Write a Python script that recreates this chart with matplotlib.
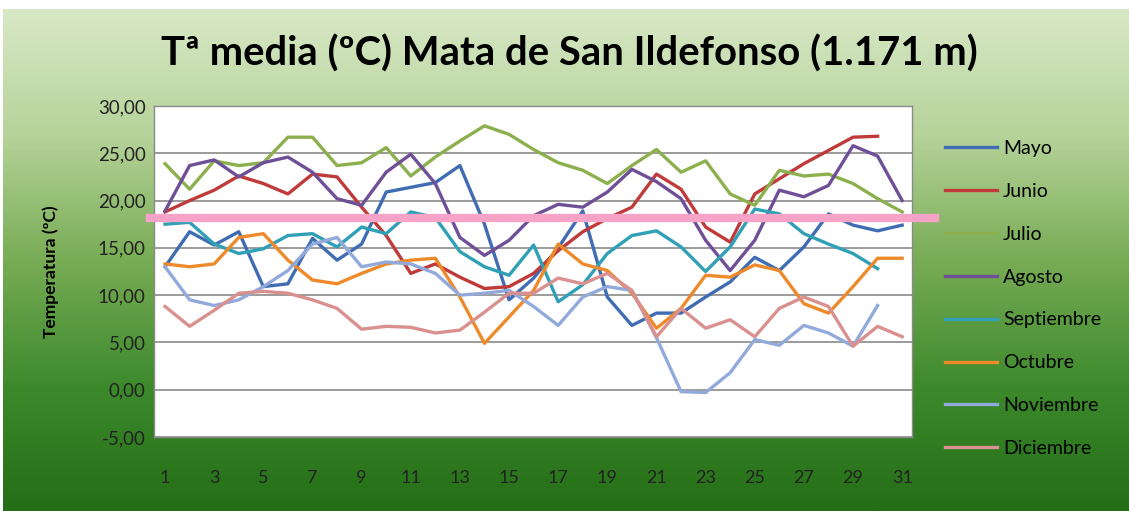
import numpy as np
import matplotlib
matplotlib.use("Agg")
import matplotlib.pyplot as plt
from matplotlib.ticker import FuncFormatter

plt.rcParams["font.family"] = ["Lato", "DejaVu Sans"]

nan = np.nan

dias = list(range(1, 32))

mayo = [13.0, 16.7, 15.3, 16.7, 10.9, 11.2, 16.0, 13.7, 15.4, 20.9, 21.4,
        21.9, 23.7, 17.5, 9.5, 11.8, 15.0, 18.9, 9.8, 6.8, 8.1,
        8.1, 9.8, 11.4, 14.0, 12.6, 15.1, 18.6, 17.4, 16.8, 17.4]
junio = [18.8, 20.0, 21.1, 22.6, 21.8, 20.7, 22.8, 22.5, 19.3, 16.3, 12.3,
         13.3, 11.9, 10.7, 10.9, 12.3, 14.7, 16.7, 18.1, 19.3, 22.8,
         21.2, 17.2, 15.6, 20.7, 22.3, 23.9, 25.3, 26.7, 26.8, nan]
julio = [23.9, 21.2, 24.2, 23.7, 24.0, 26.7, 26.7, 23.7, 24.0, 25.6, 22.6,
         24.6, 26.3, 27.9, 27.0, 25.4, 24.0, 23.2, 21.8, 23.7, 25.4,
         23.0, 24.2, 20.7, 19.5, 23.2, 22.6, 22.8, 21.8, 20.2, 18.8]
agosto = [18.9, 23.7, 24.3, 22.5, 24.0, 24.6, 23.0, 20.2, 19.5, 23.0, 24.9,
          21.8, 16.1, 14.2, 15.8, 18.4, 19.6, 19.3, 20.9, 23.3, 22.0,
          20.2, 15.8, 12.6, 15.8, 21.1, 20.4, 21.6, 25.8, 24.7, 20.0]
septiembre = [17.5, 17.7, 15.4, 14.4, 14.9, 16.3, 16.5, 15.1, 17.2, 16.5, 18.8,
              18.2, 14.6, 13.0, 12.1, 15.3, 9.3, 11.1, 14.4, 16.3, 16.8,
              15.1, 12.5, 15.1, 19.1, 18.6, 16.5, 15.4, 14.4, 12.8, nan]
octubre = [13.3, 13.0, 13.3, 16.1, 16.5, 13.7, 11.6, 11.2, 12.3, 13.3, 13.7,
           13.9, 9.8, 4.9, 7.7, 10.5, 15.4, 13.3, 12.6, 10.2, 6.5,
           8.6, 12.1, 11.9, 13.2, 12.6, 9.1, 8.1, 10.9, 13.9, 13.9]
noviembre = [13.0, 9.5, 8.9, 9.5, 10.9, 12.6, 15.4, 16.1, 13.0, 13.5, 13.3,
             12.3, 10.0, 10.2, 10.5, 8.8, 6.8, 9.8, 10.9, 10.5, 5.5,
             -0.2, -0.3, 1.8, 5.3, 4.7, 6.8, 6.0, 4.6, 8.9, nan]
diciembre = [8.8, 6.7, 8.4, 10.2, 10.4, 10.2, 9.5, 8.6, 6.4, 6.7, 6.6,
             6.0, 6.3, 8.2, 10.2, 10.2, 11.8, 11.2, 12.3, 10.5, 5.6,
             8.6, 6.5, 7.4, 5.6, 8.6, 9.8, 8.8, 4.6, 6.7, 5.6]

meses = ["Mayo", "Junio", "Julio", "Agosto", "Septiembre", "Octubre",
         "Noviembre", "Diciembre"]
series = [mayo, junio, julio, agosto, septiembre, octubre, noviembre, diciembre]
colores = ["#3f6cb3", "#bf3a38", "#8cb04e", "#6f4f98", "#2fa0b6", "#ee8a2a",
           "#92aadb", "#d9908f"]

umbral = 18.2

fig = plt.figure(figsize=(11.29, 5.11), dpi=100)

# fondo degradado verde
bg = fig.add_axes([0.003, 0.0, 0.997, 0.982], zorder=-10)
grad = np.linspace(0, 1, 256).reshape(-1, 1)
cmap = matplotlib.colors.LinearSegmentedColormap.from_list(
    "verde", ["#d8e8c6", "#b6d39a", "#78ac55", "#3d8a2c", "#246e17"])
bg.imshow(grad, aspect="auto", cmap=cmap, extent=[0, 1, 0, 1])
bg.axis("off")

ax = fig.add_axes([0.1364, 0.1448, 0.6714, 0.6478])
ax.set_facecolor("white")
for i, (nombre, ys) in enumerate(zip(meses, series)):
    ax.plot(dias, ys, color=colores[i], lw=2.4, label=nombre, zorder=3)

ax.axhline(umbral, xmin=-0.005, xmax=1.03, color="#f7a3c8", lw=6,
           clip_on=False, zorder=4)

ax.set_ylim(-5, 30)
ax.set_xlim(0.55, 31.4)
ax.set_yticks(range(-5, 31, 5))
ax.yaxis.set_major_formatter(FuncFormatter(lambda v, p: f"{v:.2f}".replace(".", ",")))
ax.set_xticks(dias[::2])
ax.grid(axis="y", color="#8a8a8a", lw=1.2, zorder=1)
ax.tick_params(axis="y", length=0, pad=6, labelsize=13.5, labelcolor="#222222")
ax.tick_params(axis="x", length=0, pad=24, labelsize=13, labelcolor="#222222")
for s in ax.spines.values():
    s.set_color("#8a8a8a")
    s.set_linewidth(1)

ax.set_ylabel("Temperatura (ºC)", fontsize=12.5, fontweight="bold", labelpad=28)

fig.text(0.504, 0.895, "Tª media (ºC) Mata de San Ildefonso (1.171 m)",
         ha="center", va="center", fontsize=28.8, fontweight="bold")

ax.legend(loc="upper left", bbox_to_anchor=(1.02, 0.95), frameon=False,
          fontsize=14, handlelength=2.7, labelspacing=1.33, handletextpad=0.3)

plt.savefig("out.png", dpi=100)
